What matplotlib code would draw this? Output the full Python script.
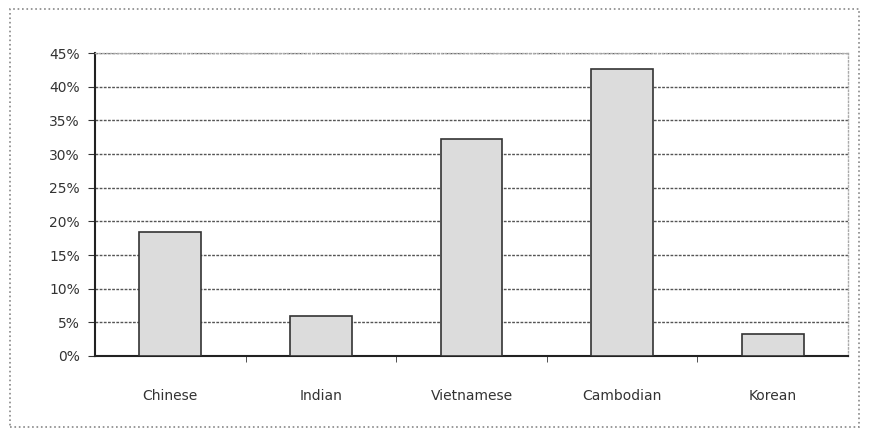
import matplotlib.pyplot as plt
from matplotlib.patches import Rectangle
from matplotlib.ticker import FuncFormatter

groups = ['Chinese', 'Indian', 'Vietnamese', 'Cambodian', 'Korean']
shares = [18.4, 5.9, 32.3, 42.6, 3.3]
yticks = [0, 5, 10, 15, 20, 25, 30, 35, 40, 45]


def main():
    plt.rcParams['font.family'] = ['DejaVu Sans']
    fig = plt.figure(figsize=(8.74, 4.36), dpi=100)
    ax = fig.add_axes([0.1087, 0.1835, 0.8616, 0.6949])

    ax.bar(range(len(groups)), shares, width=0.41, color='#dcdcdc',
           edgecolor='#333333', linewidth=1.2, zorder=3)

    ax.set_xlim(-0.5, len(groups) - 0.5)
    ax.set_ylim(0, 45)
    ax.set_yticks(yticks)
    ax.yaxis.set_major_formatter(FuncFormatter(lambda v, p: '%d%%' % v))
    ax.grid(axis='y', color='#555555', linestyle=(0, (2, 1)), linewidth=1, zorder=0)

    ax.set_xticks(range(len(groups)))
    ax.set_xticklabels(groups)
    ax.set_xticks([i + 0.5 for i in range(len(groups) - 1)], minor=True)
    ax.tick_params(axis='x', which='major', length=0, pad=24, labelsize=10, colors='#333333')
    ax.tick_params(axis='x', which='minor', length=4, direction='out', color='#333333')
    ax.tick_params(axis='y', length=5, direction='out', pad=6, labelsize=10, colors='#333333')

    for s in ['left', 'bottom']:
        ax.spines[s].set_color('#222222')
        ax.spines[s].set_linewidth(1.5)
    for s in ['top', 'right']:
        ax.spines[s].set_color('#aaaaaa')
        ax.spines[s].set_linestyle(':')
        ax.spines[s].set_linewidth(1)

    fig.patches.append(Rectangle((0.011, 0.02), 0.972, 0.96, transform=fig.transFigure,
                                 fill=False, edgecolor='#888888', linestyle=':', linewidth=1.2))

    plt.savefig('out.png', dpi=100)


if __name__ == "__main__":
    main()
